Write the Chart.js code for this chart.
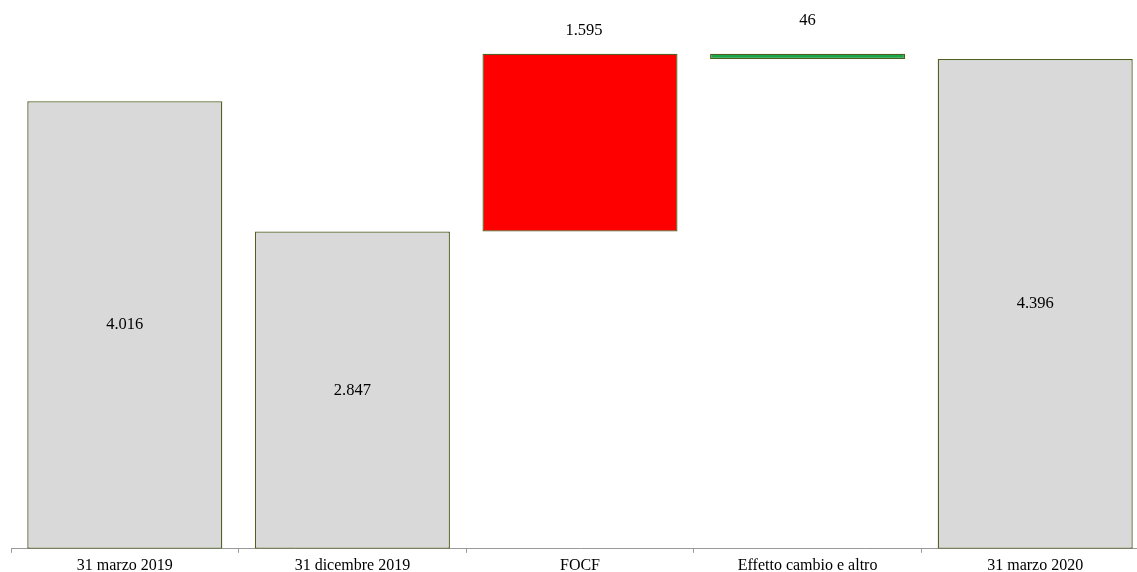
<!DOCTYPE html>
<html>
<head>
<meta charset="utf-8">
<script src="https://cdn.jsdelivr.net/npm/chart.js@4"></script>
<style>
    html, body { margin: 0; padding: 0; background: #fff; overflow: hidden; }
    #wrap { width: 1149px; height: 580px; }
</style>
</head>
<body>
<div id="wrap"><canvas id="myChart"></canvas></div>
<script>
// waterfall: totals and changes
const categories = ['31 marzo 2019', '31 dicembre 2019', 'FOCF', 'Effetto cambio e altro', '31 marzo 2020'];
const starts = [0, 0, 2847, 4396, 0];
const ends = [4016, 2847, 4442, 4442, 4396];
const labels = ['4.016', '2.847', '1.595', '46', '4.396'];
const fills = ['#d9d9d9', '#d9d9d9', '#ff0000', '#1aa64b', '#d9d9d9'];

var bars = [];
for (let i = 0; i < categories.length; i++) {
    bars.push([starts[i], ends[i]]);
}

// labels inside totals, above the floating bars
const valueLabels = {
    id: 'valueLabels',
    afterDatasetsDraw(chart) {
        const c = chart.ctx;
        const meta = chart.getDatasetMeta(0);
        c.save();
        c.font = '16.5px "Liberation Serif", "Times New Roman", serif';
        c.fillStyle = '#000';
        c.textAlign = 'center';
        c.textBaseline = 'middle';
        meta.data.forEach(function(bar, i) {
            var x = bar.x;
            var y;
            if (starts[i] === 0) {
                y = (bar.y + bar.base) / 2;
            } else if (i === 2) {
                x = bar.x + 4;
                y = Math.min(bar.y, bar.base) - 23;
            } else {
                y = Math.min(bar.y, bar.base) - 33;
            }
            c.fillText(labels[i], x, y);
        });
        c.restore();
    }
};

Chart.defaults.font.family = '"Liberation Serif", "Times New Roman", serif';
Chart.defaults.font.size = 16;
Chart.defaults.color = '#000';

const myChart = new Chart(document.getElementById('myChart'), {
    type: 'bar',
    data: {
        labels: categories,
        datasets: [{
            data: bars,
            backgroundColor: fills,
            borderColor: '#4f6020',
            borderWidth: 1.3,
            borderSkipped: false,
            barPercentage: 0.857,
            categoryPercentage: 1.0,
        }]
    },
    options: {
        animation: false,
        responsive: true,
        maintainAspectRatio: false,
        layout: { padding: { left: 11, right: 0, top: 0, bottom: 2 } },
        plugins: {
            legend: { display: false },
            tooltip: { enabled: false },
        },
        scales: {
            x: {
                offset: true,
                grid: {
                    offset: true,
                    drawOnChartArea: false,
                    drawTicks: true,
                    tickLength: 4,
                    color: '#999',
                },
                border: { display: true, color: '#999', width: 1 },
                ticks: { padding: 3, maxRotation: 0, autoSkip: false },
            },
            y: {
                display: false,
                min: 0,
                max: 4925,
            }
        }
    },
    plugins: [valueLabels]
});
</script>
</body>
</html>
